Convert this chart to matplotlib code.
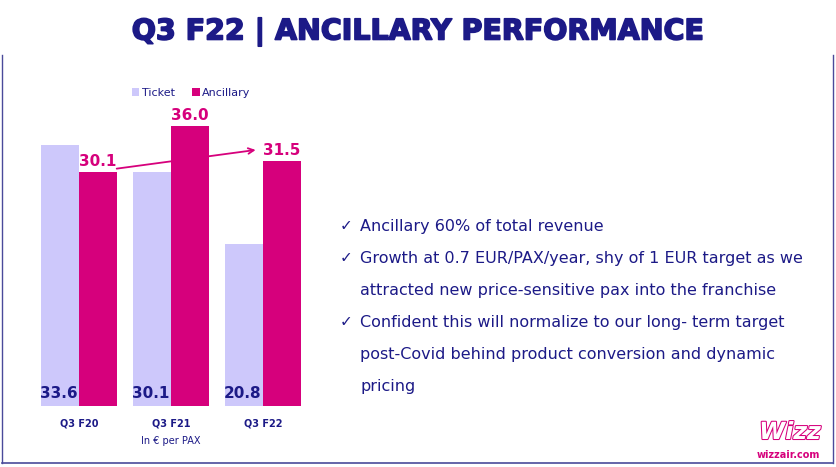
import matplotlib.pyplot as plt
import matplotlib.patheffects as pe
import numpy as np

quarters = ['Q3 F20', 'Q3 F21', 'Q3 F22']
ticket = [33.6, 30.1, 20.8]
ancillary = [30.1, 36.0, 31.5]

bullets = [
    ['Ancillary 60% of total revenue'],
    ['Growth at 0.7 EUR/PAX/year, shy of 1 EUR target as we',
     'attracted new price-sensitive pax into the franchise'],
    ['Confident this will normalize to our long- term target',
     'post-Covid behind product conversion and dynamic',
     'pricing'],
]

navy = '#1c1a87'
pink = '#d6007c'
lilac = '#cdc8fb'

fig = plt.figure(figsize=(8.36, 4.67), dpi=100)
W, H = 836, 467

# slide frame
fig.add_artist(plt.Line2D([2/W, 2/W], [1 - 463/H, 1 - 55/H], color='#4a4a9a', lw=1))
fig.add_artist(plt.Line2D([2/W, 833/W], [1 - 463/H, 1 - 463/H], color='#4a4a9a', lw=1.2))
fig.add_artist(plt.Line2D([833/W, 833/W], [1 - 463/H, 1 - 55/H], color='#4a4a9a', lw=1))

fig.text(418/W, 1 - 32/H, 'Q3 F22 | ANCILLARY PERFORMANCE', ha='center', va='center',
         fontsize=20.5, fontweight='heavy', color=navy,
         path_effects=[pe.withStroke(linewidth=1.2, foreground=navy)])

ax = fig.add_axes([41/W, 1 - 406/H, 260/W, 326/H])
x = np.arange(len(quarters))
w = 0.41
ax.bar(x - w/2, ticket, w, color=lilac, label='Ticket')
ax.bar(x + w/2, ancillary, w, color=pink, label='Ancillary')
ax.set_xlim(-0.413, 2.413)
ax.set_ylim(0, 326/7.77)
for s in ax.spines.values():
    s.set_visible(False)
ax.set_yticks([])
ax.set_xticks(x)
ax.set_xticklabels(quarters, fontsize=7, fontweight='bold', color=navy)
ax.tick_params(axis='x', length=0, pad=9)

for i in x:
    ax.text(i - 0.02, 0.6, f'{ticket[i]:.1f}', ha='right', va='bottom',
            fontsize=11, fontweight='bold', color=navy)
    ax.text(i + w/2, ancillary[i] + 0.4, f'{ancillary[i]:.1f}', ha='center', va='bottom',
            fontsize=11, fontweight='bold', color=pink)

ax.annotate('', xy=(1.95, ancillary[2] + 1.5), xytext=(0.38, ancillary[0] + 0.4),
            arrowprops=dict(arrowstyle='->', color=pink, lw=1.3))

ax.text(1, -3.9, 'In € per PAX', ha='center', va='top', fontsize=7, color=navy)

ax.legend(loc='center left', bbox_to_anchor=(0.31, 1 - 13/326), ncol=2, frameon=False,
          fontsize=8, handlelength=0.7, handleheight=0.7, handletextpad=0.2,
          columnspacing=1.6, labelcolor=navy)

y = 226
for lines in bullets:
    fig.text(340/W, 1 - y/H, '✓', ha='left', va='center', fontsize=11, color=navy)
    for ln in lines:
        fig.text(360/W, 1 - y/H, ln, ha='left', va='center', fontsize=11.5, color=navy)
        y += 32

fig.text(790/W, 1 - 432/H, 'Wizz', ha='center', va='center', fontsize=17, fontstyle='italic',
         fontweight='bold', color='white',
         path_effects=[pe.withStroke(linewidth=1.5, foreground=pink)])
fig.text(788/W, 1 - 455/H, 'wizzair.com', ha='center', va='center', fontsize=7, color=pink,
         fontweight='bold')

fig.savefig('out.png', dpi=100)
